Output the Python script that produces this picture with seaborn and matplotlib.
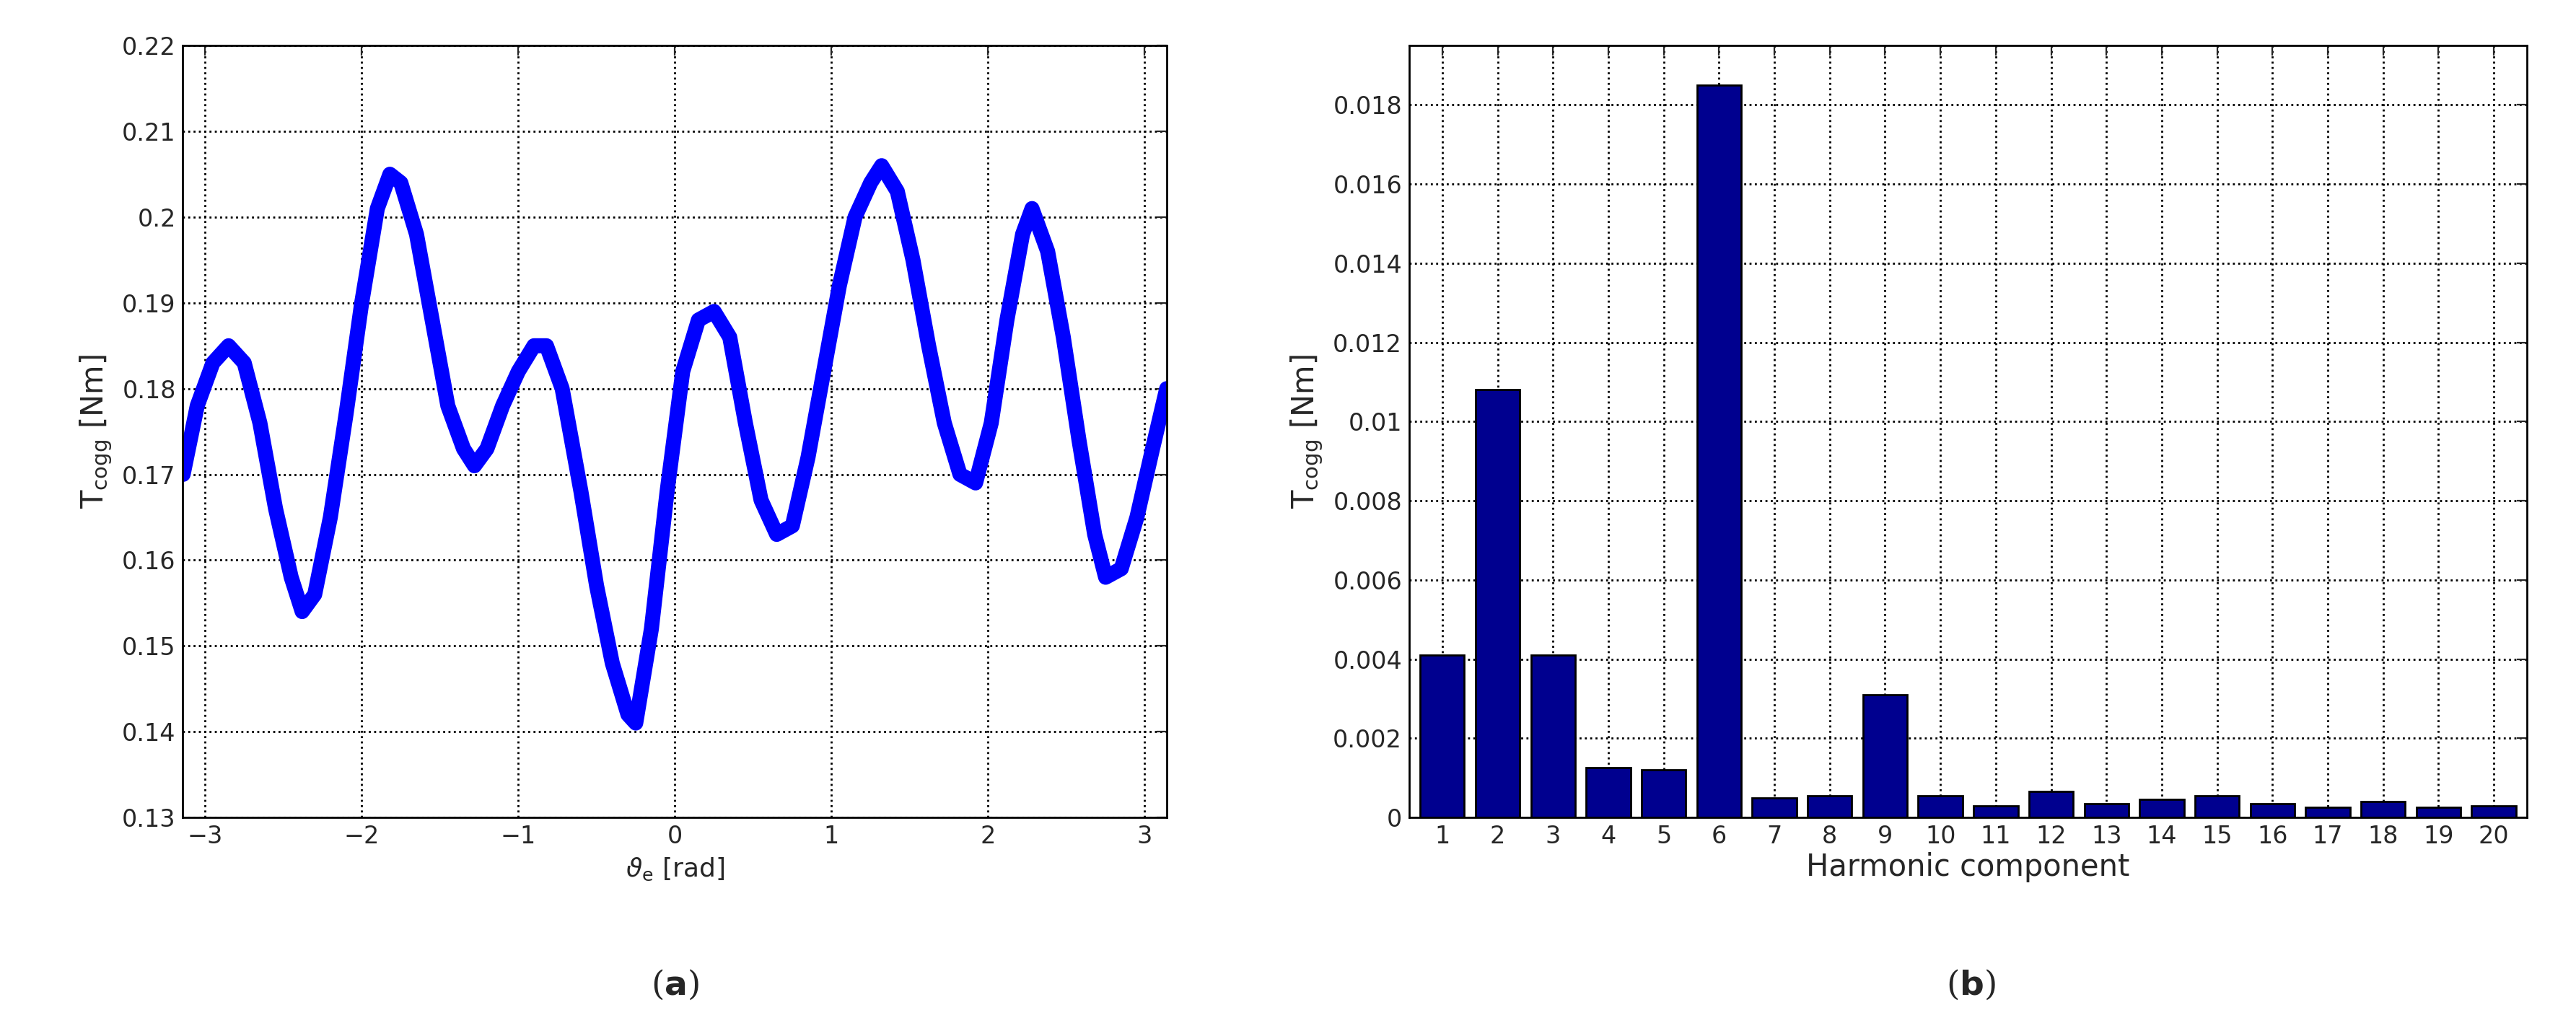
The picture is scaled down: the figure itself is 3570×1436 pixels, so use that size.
import numpy as np
import pandas as pd
import seaborn as sns
from matplotlib import pyplot as plt

# (a) cogging torque vs electrical angle
theta = [-3.14, -3.05, -2.95, -2.85, -2.75, -2.65, -2.55, -2.45, -2.38, -2.3, -2.2, -2.1, -2.0, -1.9,
         -1.82, -1.75, -1.65, -1.55, -1.45, -1.35, -1.28, -1.2, -1.1, -1.0, -0.9, -0.82, -0.72,
         -0.6, -0.5, -0.4, -0.3, -0.25, -0.15, -0.05, 0.05, 0.15, 0.25, 0.35, 0.45, 0.55, 0.65,
         0.75, 0.85, 0.95, 1.05, 1.15, 1.25, 1.32, 1.42, 1.52, 1.62, 1.72, 1.82, 1.92, 2.02,
         2.12, 2.22, 2.28, 2.38, 2.48, 2.58, 2.68, 2.75, 2.85, 2.95, 3.05, 3.14]
torque = [0.170, 0.178, 0.183, 0.185, 0.183, 0.176, 0.166, 0.158, 0.154, 0.156, 0.165, 0.177, 0.190, 0.201,
          0.205, 0.204, 0.198, 0.188, 0.178, 0.173, 0.171, 0.173, 0.178, 0.182, 0.185, 0.185, 0.180,
          0.168, 0.157, 0.148, 0.142, 0.141, 0.152, 0.168, 0.182, 0.188, 0.189, 0.186, 0.176, 0.167, 0.163,
          0.164, 0.172, 0.182, 0.192, 0.200, 0.204, 0.206, 0.203, 0.195, 0.185, 0.176, 0.170, 0.169, 0.176,
          0.188, 0.198, 0.201, 0.196, 0.186, 0.174, 0.163, 0.158, 0.159, 0.165, 0.173, 0.180]

# (b) harmonic amplitudes
harmonics = list(range(1, 21))
amplitude = [0.0041, 0.0108, 0.0041, 0.00125, 0.0012, 0.0185, 0.0005, 0.00055, 0.0031, 0.00055,
             0.0003, 0.00065, 0.00035, 0.00045, 0.00055, 0.00035, 0.00025, 0.0004, 0.00025, 0.0003]

sns.set_style("white")
plt.rcParams['font.family'] = ['DejaVu Sans']
plt.rcParams['font.size'] = 12

fig = plt.figure(figsize=(17.85, 7.18), dpi=200)
ax1 = fig.add_axes([0.071, 0.211, 0.382, 0.745])
ax2 = fig.add_axes([0.547, 0.211, 0.434, 0.745])

df1 = pd.DataFrame({"theta": theta, "torque": torque})
sns.lineplot(data=df1, x="theta", y="torque", ax=ax1, color="#0000ff", linewidth=7.5, sort=False)
ax1.set_xlim(-3.14159, 3.14159)
ax1.set_ylim(0.13, 0.22)
ax1.set_yticks(np.arange(0.13, 0.2201, 0.01))
ax1.set_yticklabels(["0.13", "0.14", "0.15", "0.16", "0.17", "0.18", "0.19", "0.2", "0.21", "0.22"])
ax1.set_xticks([-3, -2, -1, 0, 1, 2, 3])
ax1.set_xticklabels(["\u22123", "\u22122", "\u22121", "0", "1", "2", "3"])
ax1.set_xlabel(r"$\vartheta_\mathrm{e}$ [rad]", fontsize=13)
ax1.set_ylabel(r"T$_\mathrm{cogg}$ [Nm]", fontsize=15)

df2 = pd.DataFrame({"h": harmonics, "amp": amplitude})
sns.barplot(data=df2, x="h", y="amp", ax=ax2, color="#00008f", saturation=1,
            edgecolor="black", linewidth=1, width=0.8)
ax2.set_xlim(-0.6, 19.6)
ax2.set_ylim(0, 0.0195)
ax2.set_yticks(np.arange(0, 0.0181, 0.002))
ax2.set_yticklabels(["0", "0.002", "0.004", "0.006", "0.008", "0.01", "0.012", "0.014", "0.016", "0.018"])
ax2.set_xlabel("Harmonic component", fontsize=15, labelpad=2)
ax2.set_ylabel(r"T$_\mathrm{cogg}$ [Nm]", fontsize=15)

for ax in (ax1, ax2):
    ax.grid(True, linestyle=":", color="black", linewidth=1)
    ax.set_axisbelow(True)
    ax.tick_params(direction="in", top=True, right=True, labelsize=12, length=5)
    for s in ax.spines.values():
        s.set_visible(True)
        s.set_color("black")
        s.set_linewidth(1)

fig.text(0.262, 0.04, r"($\mathbf{a}$)", ha="center", fontsize=17, family="serif")
fig.text(0.765, 0.04, r"($\mathbf{b}$)", ha="center", fontsize=17, family="serif")

plt.savefig("out.png", dpi=200)
plt.close()
